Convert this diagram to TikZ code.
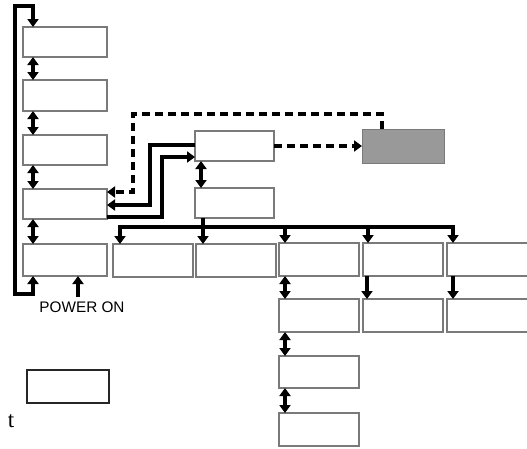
\documentclass[tikz,border=0pt]{standalone}
\usepackage{fontspec}
\newfontfamily\arialf{Liberation Sans}
\newfontfamily\tnrf{Liberation Serif}
\usetikzlibrary{arrows.meta,calc}
\definecolor{boxedge}{HTML}{7A7A7A}
\definecolor{grayfill}{HTML}{999999}
\begin{document}
\begin{tikzpicture}[x=1pt,y=-1pt,
  box/.style={draw=boxedge,line width=1.5pt,fill=white,anchor=north west,inner sep=0pt,outer sep=0pt},
  conn/.style={line width=3.6pt,line cap=butt,line join=miter},
  tip/.style={-{Triangle[width=11pt,length=8pt]}},
  dbl/.style={conn,{Triangle[width=11pt,length=8pt]}-{Triangle[width=11pt,length=8pt]}},
  dsh/.style={conn,dash pattern=on 8pt off 5pt}]
\useasboundingbox (0,0) rectangle (527,448);
\clip (0,0) rectangle (527,448);
% left column
\node[box,minimum width=84pt,minimum height=30pt] (L1) at (23,27) {};
\node[box,minimum width=84pt,minimum height=31pt] (L2) at (23,80) {};
\node[box,minimum width=84pt,minimum height=30pt] (L3) at (23,135) {};
\node[box,minimum width=84pt,minimum height=30pt] (L4) at (23,189) {};
\node[box,minimum width=84pt,minimum height=32pt] (L5) at (23,244) {};
% middle
\node[box,minimum width=79pt,minimum height=30pt] (A) at (195,131) {};
\node[box,minimum width=79pt,minimum height=30pt] (B) at (195,188) {};
\node[box,draw=grayfill!80!black,line width=0.6pt,fill=grayfill,minimum width=82pt,minimum height=34pt] (G) at (362,129) {};
% row of boxes
\node[box,minimum width=80pt,minimum height=33pt] (R1) at (113,244) {};
\node[box,minimum width=80pt,minimum height=33pt] (R2) at (196,244) {};
\node[box,minimum width=80pt,minimum height=33pt] (R3) at (279,243) {};
\node[box,minimum width=80pt,minimum height=33pt] (R4) at (363,243) {};
\node[box,minimum width=90pt,minimum height=33pt] (R5) at (447,243) {};
\node[box,minimum width=80pt,minimum height=33pt] (S3) at (279,299) {};
\node[box,minimum width=80pt,minimum height=33pt] (S4) at (363,299) {};
\node[box,minimum width=90pt,minimum height=33pt] (S5) at (447,299) {};
\node[box,minimum width=80pt,minimum height=32pt] (T3) at (279,356) {};
\node[box,minimum width=80pt,minimum height=33pt] (U3) at (279,413) {};
\node[box,draw=black!85,line width=1.3pt,minimum width=82pt,minimum height=33pt] (Z) at (27,370) {};
% texts
\node[font=\arialf\fontsize{15.3pt}{16pt}\selectfont,inner sep=0pt] (pwtext) at (82,307.5) {POWER ON};
\node[font=\tnrf\fontsize{23pt}{25pt}\selectfont,inner sep=0pt,anchor=base] (tt) at (11,427) {t};
% loop around left column
\coordinate (lb) at (15,294);
\coordinate (lt) at (15,6);
\draw[dbl] ($(L5.south west)+(10,0)$) |- (lb) -- (lt) -| ($(L1.north west)+(10,0)$);
% double arrows left column
\draw[dbl] ($(L1.south west)+(10,0)$) -- ($(L2.north west)+(10,0)$);
\draw[dbl] ($(L2.south west)+(10,0)$) -- ($(L3.north west)+(10,0)$);
\draw[dbl] ($(L3.south west)+(10,0)$) -- ($(L4.north west)+(10,0)$);
\draw[dbl] ($(L4.south west)+(10,0)$) -- ($(L5.north west)+(10,0)$);
% power on
\coordinate (pw) at (78,297);
\draw[conn,tip] (pw) -- (pw |- L5.south);
% A <-> B
\draw[dbl] ($(A.south west)+(6,0)$) -- ($(B.north west)+(6,0)$);
% dashed A -> G
\draw[dsh,tip] (A.east) -- (G.west);
% dashed loop G -> L4
\coordinate (d1) at (382,114);
\coordinate (d2) at (133,114);
\coordinate (d3) at (133,192);
\draw[dsh,tip] (G.north -| d1) -- (d1) -- (d2) -- (d3) -- (d3 -| L4.east);
% solid A -> L4
\coordinate (s1) at (150,145);
\coordinate (s2) at (150,205);
\draw[conn,tip] (s1 -| A.west) -- (s1) -- (s2) -- (s2 -| L4.east);
% solid L4 -> A
\coordinate (s3) at (162,217);
\coordinate (s4) at (162,157);
\draw[conn,tip] (s3 -| L4.east) -- (s3) -- (s4) -- (s4 -| A.west);
% bus
\coordinate (busL) at (120,227);
\coordinate (busR) at (453,227);
\coordinate (busB) at (203,227);
\draw[conn] ([xshift=-1.8pt]busL) -- ([xshift=1.8pt]busR);
\draw[conn] (B.south -| busB) -- (busB);
\draw[conn,tip] (busL) -- (busL |- R1.north);
\draw[conn,tip] (busB) -- (busB |- R2.north);
\coordinate (b3) at (285,227);
\coordinate (b4) at (368,227);
\draw[conn,tip] (b3) -- (b3 |- R3.north);
\draw[conn,tip] (b4) -- (b4 |- R4.north);
\draw[conn,tip] (busR) -- (busR |- R5.north);
% lower connections
\draw[dbl] ($(R3.south west)+(6,0)$) -- ($(S3.north west)+(6,0)$);
\draw[dbl] ($(S3.south west)+(6,0)$) -- ($(T3.north west)+(6,0)$);
\draw[dbl] ($(T3.south west)+(6,0)$) -- ($(U3.north west)+(6,0)$);
\draw[conn,tip] ($(R4.south west)+(4,0)$) -- ($(S4.north west)+(4,0)$);
\draw[conn,tip] ($(R5.south west)+(6,0)$) -- ($(S5.north west)+(6,0)$);
\end{tikzpicture}
\end{document}
